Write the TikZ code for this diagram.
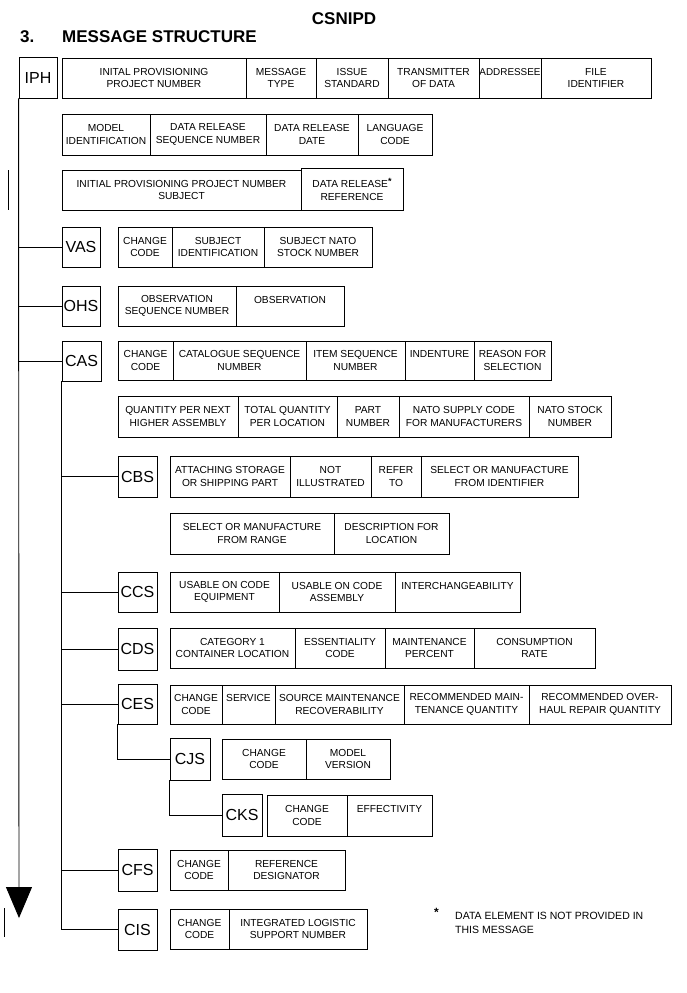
\documentclass[tikz,border=0pt]{standalone}
\usepackage{fontspec}
\setmainfont{Liberation Sans}
\usetikzlibrary{arrows.meta}
\tikzset{
  fld/.style={draw, line width=0.9pt, inner sep=0pt, align=center,
    font=\fontsize{10.2}{12.5}\selectfont},
  seg/.style={draw, line width=0.9pt, inner sep=0pt, align=center,
    font=\fontsize{16}{18}\selectfont},
  conn/.style={line width=0.9pt},
  note/.style={inner sep=0pt, align=left, anchor=west,
    font=\fontsize{10.5}{14}\selectfont},
  ttl/.style={inner sep=0pt, font=\fontsize{17}{20}\selectfont\bfseries}
}
\newcommand\fld[6]{\node[fld, minimum width={(#3-#2)*1pt}, minimum height={(#5-#4)*1pt}] (#1) at ({(#2+#3)/2},{(#4+#5)/2}) {#6};}
\newcommand\seg[6]{\node[seg, minimum width={(#3-#2)*1pt}, minimum height={(#5-#4)*1pt}] (#1) at ({(#2+#3)/2},{(#4+#5)/2}) {#6};}
\begin{document}
\begin{tikzpicture}[x=1pt,y=-1pt]
\useasboundingbox (0,0) rectangle (687,993);
% titles
\node[ttl] (title) at (344,18.5) {CSNIPD};
\node[ttl, anchor=west] (secno) at (20,37) {3.};
\node[ttl, anchor=west] (sectitle) at (62,37) {MESSAGE STRUCTURE};
% IPH
\seg{IPH}{19}{57}{57}{98}{IPH}
\fld{f11}{62}{246}{58}{98}{INITAL PROVISIONING\\PROJECT NUMBER}
\fld{f12}{246}{316}{58}{98}{MESSAGE\\TYPE}
\fld{f13}{316}{388}{58}{98}{ISSUE\\STANDARD}
\fld{f14}{388}{479}{58}{98}{TRANSMITTER\\OF DATA}
\fld{f15}{479}{541}{58}{98}{{\fontsize{9.9}{12.5}\selectfont ADDRESSEE}\\\mbox{}}
\fld{f16}{541}{651}{58}{98}{FILE\\IDENTIFIER}
\fld{f21}{62}{150}{114}{155}{MODEL\\IDENTIFICATION}
\fld{f22}{150}{266}{114}{155}{DATA RELEASE\\SEQUENCE NUMBER}
\fld{f23}{266}{358}{114}{155}{DATA RELEASE\\DATE}
\fld{f24}{358}{432}{114}{155}{LANGUAGE\\CODE}
\fld{f31}{62}{301}{170}{210}{INITIAL PROVISIONING PROJECT NUMBER\\SUBJECT}
\fld{f32}{301}{403}{168}{210}{DATA RELEASE\raisebox{3.5pt}{\fontsize{9}{9}\selectfont\bfseries *}\\REFERENCE}
% VAS
\seg{VAS}{62}{100}{227}{267}{VAS}
\fld{v1}{118}{172}{227}{267}{CHANGE\\CODE}
\fld{v2}{172}{264}{227}{267}{SUBJECT\\IDENTIFICATION}
\fld{v3}{264}{372}{227}{267}{SUBJECT NATO\\STOCK NUMBER}
% OHS
\seg{OHS}{62}{100}{286}{326}{OHS}
\fld{o1}{118}{236}{286}{326}{OBSERVATION\\SEQUENCE NUMBER}
\fld{o2}{236}{344}{286}{326}{OBSERVATION\\\mbox{}}
% CAS
\seg{CAS}{62}{101}{341}{381}{CAS}
\fld{a1}{118}{173}{341}{380}{CHANGE\\CODE}
\fld{a2}{173}{306}{341}{380}{CATALOGUE SEQUENCE\\NUMBER}
\fld{a3}{306}{405}{341}{380}{ITEM SEQUENCE\\NUMBER}
\fld{a4}{405}{474}{341}{380}{INDENTURE\\\mbox{}}
\fld{a5}{474}{551}{341}{380}{REASON FOR\\SELECTION}
\fld{a6}{118}{238}{396}{437}{QUANTITY PER NEXT\\HIGHER ASSEMBLY}
\fld{a7}{238}{337}{396}{437}{TOTAL QUANTITY\\PER LOCATION}
\fld{a8}{337}{399}{396}{437}{PART\\NUMBER}
\fld{a9}{399}{529}{396}{437}{NATO SUPPLY CODE\\FOR MANUFACTURERS}
\fld{a10}{529}{611}{396}{437}{NATO STOCK\\NUMBER}
% CBS
\seg{CBS}{118}{157}{456}{497}{CBS}
\fld{b1}{170}{290}{456}{497}{ATTACHING STORAGE\\OR SHIPPING PART}
\fld{b2}{290}{371}{456}{497}{NOT\\ILLUSTRATED}
\fld{b3}{371}{421}{456}{497}{REFER\\TO}
\fld{b4}{421}{578}{456}{497}{SELECT OR MANUFACTURE\\FROM IDENTIFIER}
\fld{b5}{170}{334}{513}{554}{SELECT OR MANUFACTURE\\FROM RANGE}
\fld{b6}{334}{449}{513}{554}{DESCRIPTION FOR\\LOCATION}
% CCS
\seg{CCS}{118}{157}{572}{612}{CCS}
\fld{c1}{170}{279}{572}{612}{USABLE ON CODE\\EQUIPMENT}
\fld{c2}{279}{395}{572}{612}{USABLE ON CODE\\ASSEMBLY}
\fld{c3}{395}{520}{572}{612}{INTERCHANGEABILITY\\\mbox{}}
% CDS
\seg{CDS}{118}{157}{628}{670}{CDS}
\fld{d1}{170}{295}{628}{668}{CATEGORY 1\\CONTAINER LOCATION}
\fld{d2}{295}{385}{628}{668}{ESSENTIALITY\\CODE}
\fld{d3}{385}{474}{628}{668}{MAINTENANCE\\PERCENT}
\fld{d4}{474}{595}{628}{668}{CONSUMPTION\\RATE}
% CES
\seg{CES}{118}{157}{684}{724}{CES}
\fld{e1}{170}{222}{685}{724}{CHANGE\\CODE}
\fld{e2}{222}{275}{685}{724}{SERVICE\\\mbox{}}
\fld{e3}{275}{404}{685}{724}{SOURCE MAINTENANCE\\RECOVERABILITY}
\fld{e4}{404}{529}{685}{724}{RECOMMENDED MAIN-\\TENANCE QUANTITY}
\fld{e5}{529}{671}{685}{724}{RECOMMENDED OVER-\\HAUL REPAIR QUANTITY}
% CJS
\seg{CJS}{170}{210}{738}{780}{CJS}
\fld{j1}{222}{306}{739}{779}{CHANGE\\CODE}
\fld{j2}{306}{390}{739}{779}{MODEL\\VERSION}
% CKS
\seg{CKS}{222}{262}{794}{836}{CKS}
\fld{k1}{267}{347}{795}{836}{CHANGE\\CODE}
\fld{k2}{347}{432}{795}{836}{EFFECTIVITY\\\mbox{}}
% CFS
\seg{CFS}{118}{157}{849}{891}{CFS}
\fld{g1}{170}{228}{850}{890}{CHANGE\\CODE}
\fld{g2}{228}{345}{850}{890}{REFERENCE\\DESIGNATOR}
% CIS
\seg{CIS}{118}{157}{909}{950}{CIS}
\fld{i1}{170}{229}{909}{949}{CHANGE\\CODE}
\fld{i2}{229}{367}{909}{949}{INTEGRATED LOGISTIC\\SUPPORT NUMBER}
% note
\node[note, font=\fontsize{12}{12}\selectfont\bfseries] (star) at (434,912) {*};
\node[note, anchor=north west] (notetext) at (455,912) {DATA ELEMENT IS NOT PROVIDED IN\\THIS MESSAGE};
% change bars
\coordinate (bar1a) at (8,170); \coordinate (bar1b) at (8,210);
\coordinate (bar2a) at (4,908); \coordinate (bar2b) at (4,937);
\draw[conn] (bar1a) -- (bar1b);
\draw[conn] (bar2a) -- (bar2b);
% main trunk
\coordinate (tip) at (19,918);
\draw[conn, -{Triangle[width=26pt,length=31pt]}] (IPH.south west) -- (tip);
\foreach \n in {VAS,OHS,CAS} \draw[conn] (\n.west -| IPH.west) -- (\n.west);
% CAS branch
\draw[conn] (CAS.south west) |- (CIS.west);
\foreach \n in {CBS,CCS,CDS,CES,CFS} \draw[conn] (\n.west -| CAS.west) -- (\n.west);
% CES branch
\draw[conn] (CES.south west) |- (CJS.west);
\draw[conn] (CJS.south west) |- (CKS.west);
\end{tikzpicture}
\end{document}
